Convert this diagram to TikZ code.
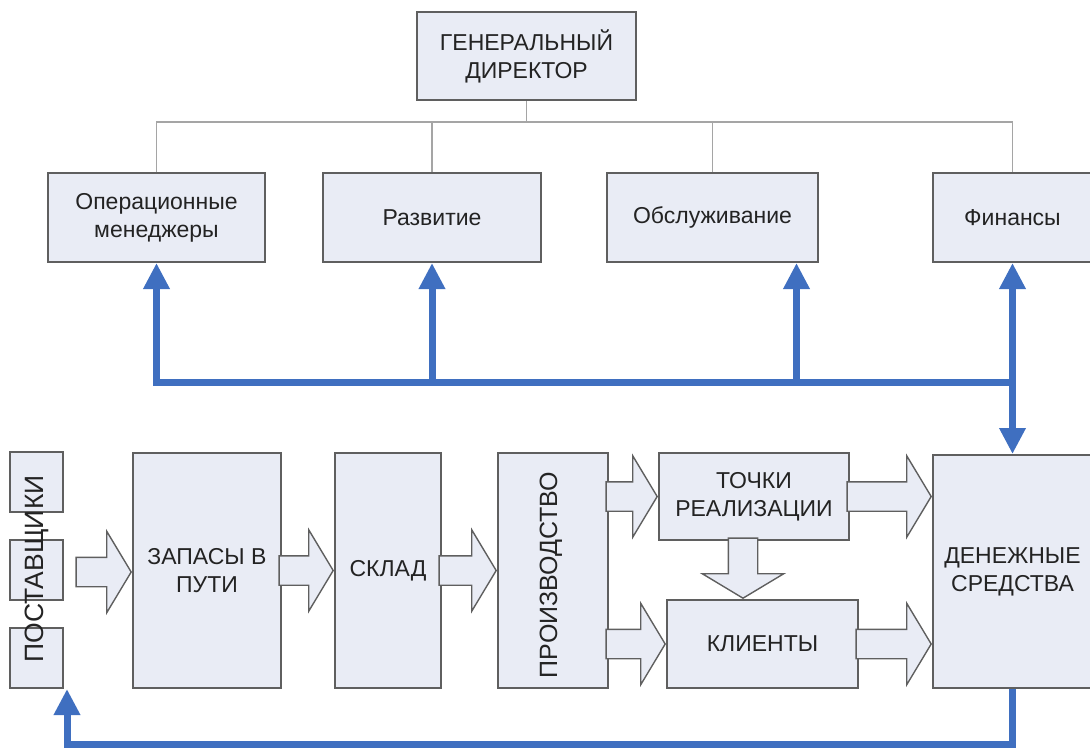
\documentclass[tikz,border=0pt]{standalone}
\usepackage{fontspec}
\setmainfont{Liberation Sans}
\usetikzlibrary{shapes.arrows,arrows.meta,calc}

\definecolor{boxfill}{RGB}{233,236,245}
\definecolor{boxline}{RGB}{95,95,95}
\definecolor{orggray}{RGB}{165,165,165}
\definecolor{flowblue}{RGB}{63,111,192}
\definecolor{txtgray}{RGB}{35,35,35}

\tikzset{
  box/.style={draw=boxline, fill=boxfill, line width=2pt, inner sep=0pt,
    align=center, text=txtgray, font=\fontsize{23}{28}\selectfont},
  orgline/.style={draw=orggray, line width=1.6pt},
  blueline/.style={draw=flowblue, line width=7pt},
  bluetip/.style={blueline, -{Triangle[width=25pt,length=26pt]}},
  blk/.style={single arrow, draw=boxline, fill=boxfill, line width=1.4pt,
    inner xsep=0pt, inner ysep=14pt, minimum width=1pt,
    single arrow head extend=26pt, single arrow tip angle=118,
    single arrow head indent=0pt, anchor=tip}
}

\begin{document}
\begin{tikzpicture}[x=1pt,y=-1pt]
	\useasboundingbox (0,0) rectangle (1090,748);

	% top level
	\node[box, minimum width=219pt, minimum height=88pt] (gd) at (526.5,56) {ГЕНЕРАЛЬНЫЙ\\ДИРЕКТОР};

	\node[box, minimum width=217pt, minimum height=89pt] (oper) at (156.5,217.5) {Операционные\\менеджеры};
	\node[box, minimum width=218pt, minimum height=89pt] (razv) at (432,217.5) {Развитие};
	\node[box, minimum width=211pt, minimum height=89pt] (obsl) at (712.5,217.5) {Обслуживание};
	\node[box, minimum width=159pt, minimum height=89pt] (fin) at (1012.5,217.5) {Финансы};

	\coordinate (orgbus) at (0,122);
	\draw[orgline] (gd.south) -- (gd.south |- orgbus);
	\draw[orgline] (oper.north) -- (oper.north |- orgbus) -- (fin.north |- orgbus) -- (fin.north);
	\draw[orgline] (razv.north) -- (razv.north |- orgbus);
	\draw[orgline] (obsl.north) -- (obsl.north |- orgbus);

	% flow row
	\node[box, minimum width=53pt, minimum height=60pt] (post1) at (36.5,482) {};
	\node[box, minimum width=53pt, minimum height=60pt] (post2) at (36.5,570) {};
	\node[box, minimum width=53pt, minimum height=60pt] (post3) at (36.5,658) {};
	\node[rotate=90, text=txtgray, font=\fontsize{26.5}{30}\selectfont] (posttxt) at (37,569) {ПОСТАВЩИКИ};

	\node[box, minimum width=148pt, minimum height=235pt] (zap) at (207,570.5) {ЗАПАСЫ В\\ПУТИ};
	\node[box, minimum width=106pt, minimum height=235pt] (skl) at (388,570.5) {СКЛАД};
	\node[box, minimum width=110pt, minimum height=235pt] (proizv) at (553,570.5) {};
	\node[rotate=90, text=txtgray, font=\fontsize{25}{30}\selectfont] (proizvtxt) at (551,575) {ПРОИЗВОДСТВО};
	\node[box, minimum width=190pt, minimum height=87pt] (tochki) at (754,496.5) {ТОЧКИ\\РЕАЛИЗАЦИИ};
	\node[box, minimum width=191pt, minimum height=88pt] (klient) at (762.5,644) {КЛИЕНТЫ};
	\node[box, minimum width=159pt, minimum height=233pt] (den) at (1012.5,571.5) {ДЕНЕЖНЫЕ\\СРЕДСТВА};

	% block arrows
	\node[blk, minimum height=55pt] (a1) at ($(zap.west)+(0,1.5)$) {};
	\node[blk, minimum height=54pt] (a2) at (skl.west) {};
	\node[blk, minimum height=57pt] (a3) at (proizv.west) {};
	\node[blk, minimum height=51pt] (a4) at (tochki.west) {};
	\node[blk, minimum height=59pt] (a5) at (klient.west) {};
	\node[blk, minimum height=60pt, rotate=-90] (a6) at ($(klient.north)+(-19.5,0)$) {};
	\node[blk, minimum height=84pt] (a7) at (den.west |- tochki.east) {};
	\node[blk, minimum height=75pt] (a8) at (den.west |- klient.east) {};

	% money flows
	\coordinate (bluebus) at (0,382);
	\coordinate (postin) at ($(post3.south east)+(3,0)$);
	\draw[bluetip] (fin.south |- bluebus) -| (oper.south);
	\draw[bluetip] (razv.south |- bluebus) -- (razv.south);
	\draw[bluetip] ($(obsl.south |- bluebus)+(84,0)$) -- ($(obsl.south)+(84,0)$);
	\draw[blueline, {Triangle[width=25pt,length=26pt]}-{Triangle[width=25pt,length=26pt]}] (den.north) -- (fin.south);
	\draw[bluetip] (den.south) -- ++(0,55) -| (postin);
\end{tikzpicture}
\end{document}
